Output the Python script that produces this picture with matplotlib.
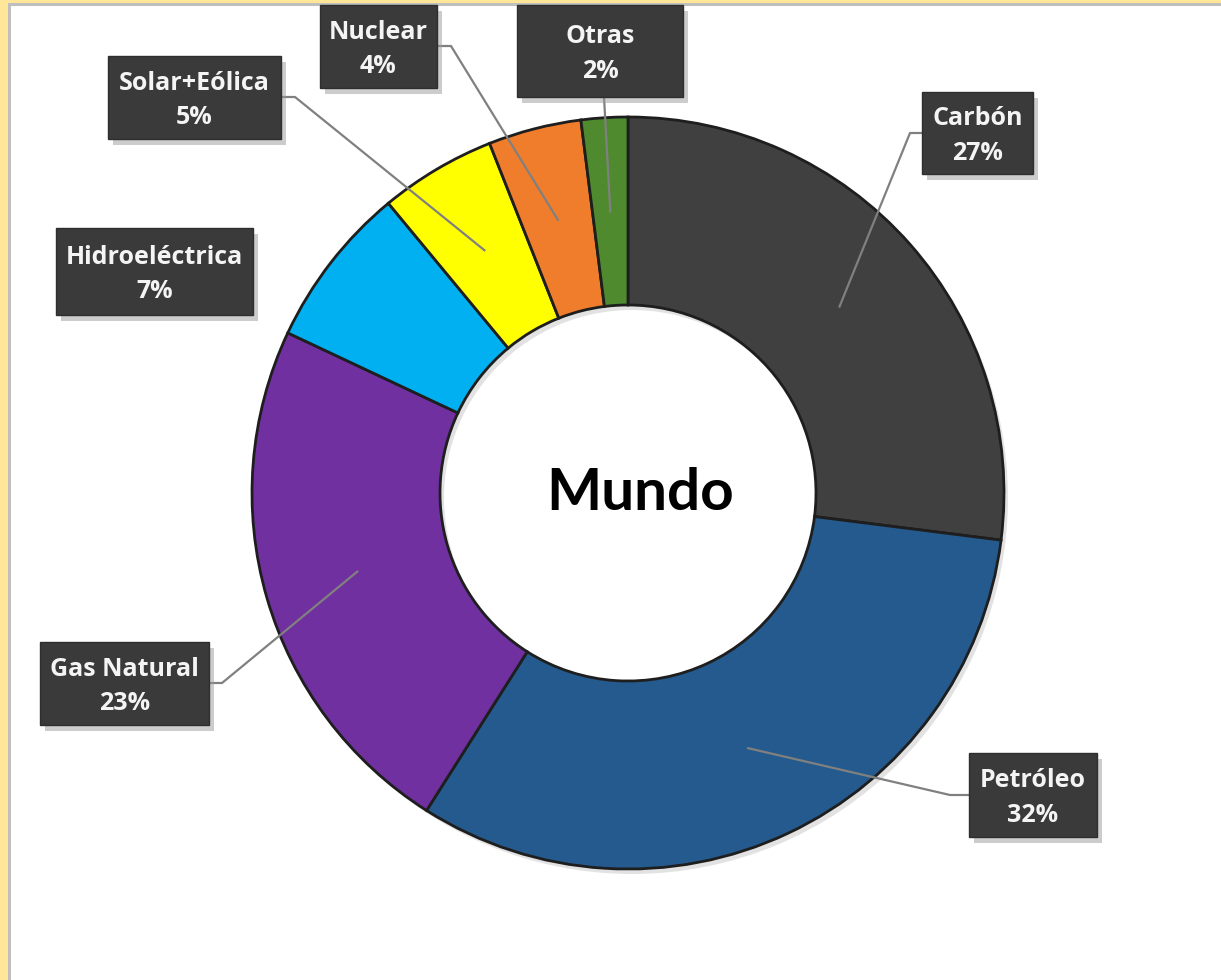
import numpy as np
import matplotlib.pyplot as plt
from matplotlib.patches import Rectangle

# datos
fuentes = ['Carbón', 'Petróleo', 'Gas Natural', 'Hidroeléctrica', 'Solar+Eólica', 'Nuclear', 'Otras']
porcentajes = [27, 32, 23, 7, 5, 4, 2]
colores = ['#404040', '#245A8D', '#7030A0', '#00B0F0', '#FFFF00', '#F07D2C', '#4F8A2F']
titulo = 'Mundo'

W, H = 1221, 980
fig = plt.figure(figsize=(W / 100, H / 100), dpi=100)
fig.patch.set_facecolor('#FFE699')
ax = fig.add_axes([0, 0, 1, 1])


def py(y):
    # coordenada y en pixeles (desde arriba) -> datos
    return H - y


# marco blanco con borde gris
ax.add_patch(Rectangle((8, 0), W, py(3), facecolor='#BFBFBF', edgecolor='none', zorder=0))
ax.add_patch(Rectangle((11, 0), W, py(6), facecolor='white', edgecolor='none', zorder=0))

centro = (628, py(493))
R = 376
# sombra del anillo
ax.pie([1], radius=R, center=(centro[0] + 4, centro[1] - 5), colors=['#D0D0D0'],
       wedgeprops=dict(width=R / 2, edgecolor='none', alpha=0.6))
wedges, _ = ax.pie(porcentajes, radius=R, center=centro, colors=colores,
                   startangle=90, counterclock=False,
                   wedgeprops=dict(width=R / 2, edgecolor='#1E1E1E', linewidth=2))
for w in wedges:
    w.set_zorder(3)

ax.text(centro[0] + 12, centro[1], titulo, ha='center', va='center', fontsize=42,
        fontweight='bold', family='Lato', color='black', zorder=5)

# cajas de etiquetas: (x0, y0, x1, y1) en pixeles y punto de quiebre de la linea
cajas = {
    'Carbón': ((922, 92, 1033, 174), [(910, 133), (922, 133)]),
    'Petróleo': ((969, 753, 1097, 837), [(950, 795), (969, 795)]),
    'Gas Natural': ((40, 642, 209, 725), [(222, 683), (209, 683)]),
    'Hidroeléctrica': ((56, 228, 253, 315), None),
    'Solar+Eólica': ((108, 56, 281, 139), [(295, 97), (281, 97)]),
    'Nuclear': ((320, 5, 437, 88), [(451, 46), (437, 46)]),
    'Otras': ((517, 5, 683, 97), [(604, 97)]),
}

for w, nombre, pct in zip(wedges, fuentes, porcentajes):
    (x0, y0, x1, y1), quiebre = cajas[nombre]
    ang = np.deg2rad((w.theta1 + w.theta2) / 2)
    ancla = (centro[0] + 0.75 * R * np.cos(ang), centro[1] + 0.75 * R * np.sin(ang))
    if quiebre:
        xs = [ancla[0]] + [p[0] for p in quiebre]
        ys = [ancla[1]] + [py(p[1]) for p in quiebre]
        ax.plot(xs, ys, color='#808080', lw=1.6, zorder=6)
    # sombra
    ax.add_patch(Rectangle((x0 + 5, py(y1) - 6), x1 - x0, y1 - y0, facecolor='#9A9A9A',
                           edgecolor='none', alpha=0.5, zorder=7))
    ax.add_patch(Rectangle((x0, py(y1)), x1 - x0, y1 - y0, facecolor='#3A3A3A',
                           edgecolor='#2E2E2E', lw=1, zorder=8))
    ax.text((x0 + x1) / 2, py((y0 + y1) / 2) - 3, f'{nombre}\n{pct}%', ha='center', va='center',
            fontsize=18, fontweight='bold', family='Open Sans', color='#F4F4F4',
            linespacing=1.5, zorder=9)

ax.set_xlim(0, W)
ax.set_ylim(0, H)
ax.set_aspect('auto')
ax.axis('off')

fig.savefig('out.png', dpi=100, facecolor=fig.get_facecolor())
